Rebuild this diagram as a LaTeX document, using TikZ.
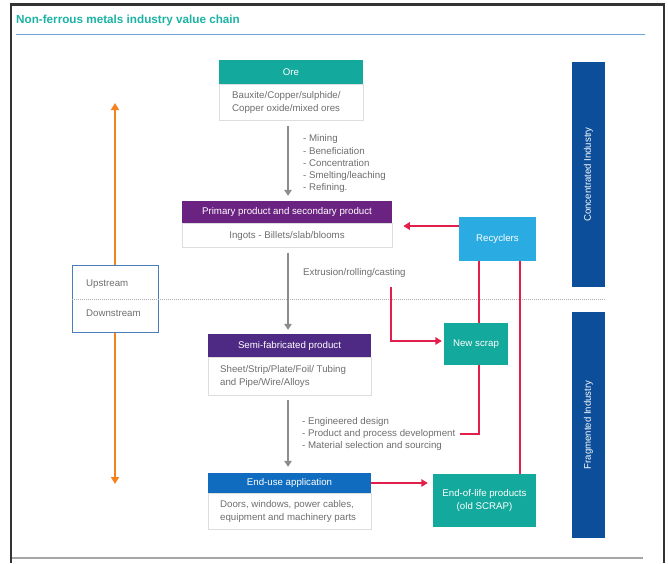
\documentclass[tikz,border=0pt]{standalone}
\usepackage{fontspec}
\setmainfont{Liberation Sans}
\usetikzlibrary{arrows.meta}

\definecolor{tealbox}{HTML}{13A99C}
\definecolor{titleteal}{HTML}{1BB3A5}
\definecolor{purpleA}{HTML}{6B2381}
\definecolor{purpleB}{HTML}{4E2A84}
\definecolor{enduse}{HTML}{0F6CBE}
\definecolor{recycle}{HTML}{2AACE2}
\definecolor{barblue}{HTML}{0C4E9A}
\definecolor{flowred}{HTML}{E21E4B}
\definecolor{flowgray}{HTML}{8C8C8C}
\definecolor{txtgray}{HTML}{6E6E6E}
\definecolor{boxline}{HTML}{DDDDDD}
\definecolor{orangeline}{HTML}{F5821F}
\definecolor{ruleblue}{HTML}{6FA3D8}
\definecolor{udblue}{HTML}{4A7EBB}
\definecolor{framegray}{HTML}{333333}

\newcommand{\txt}{\fontsize{9.7}{12.3}\selectfont}

\tikzset{
  hdr/.style={rectangle, inner sep=0pt, text=white, font=\txt, align=center},
  bodybox/.style={rectangle, draw=boxline, fill=white, line width=0.6pt, inner sep=0pt},
  solidbox/.style={rectangle, inner sep=0pt, text=white, font=\txt, align=center},
  bar/.style={rectangle, fill=barblue, inner sep=0pt, minimum width=33pt},
  grayarrow/.style={draw=flowgray, line width=1.4pt,
    -{Triangle[width=7.5pt,length=6pt]}},
  redline/.style={draw=flowred, line width=1.4pt},
  redarrow/.style={redline, -{Triangle[width=7.5pt,length=6.5pt]}},
  orangearrow/.style={draw=orangeline, line width=2pt,
    -{Triangle[width=8pt,length=7pt]}},
  note/.style={text=txtgray, font=\txt, align=left, inner sep=0pt},
}

\begin{document}
\begin{tikzpicture}[x=1pt,y=-1pt]
\useasboundingbox (0,0) rectangle (668,563);
\fill[white] (0,0) rectangle (668,563);

% frame, title and rules
\draw[framegray, line width=2.6pt] (11,563) -- (11,4.5) -- (664,4.5) -- (664,563);
\node[anchor=west, inner sep=0pt, text=titleteal, font=\fontsize{11.7}{13}\selectfont\bfseries]
  (title) at (16,20) {Non-ferrous metals industry value chain};
\draw[ruleblue, line width=1.5pt] (16,34.5) -- (645,34.5);
\draw[gray!70, line width=2pt] (12,558) -- (643,558);

% upstream / downstream split
\node[rectangle, draw=udblue, fill=white, line width=1pt, minimum width=86pt,
  minimum height=67pt, inner sep=0pt] (ud) at (115,298.5) {};
\draw[gray!65, line width=0.8pt, dash pattern=on 1.2pt off 0.8pt] (72,299) -- (605,299);
\node[note, anchor=west] (up) at (86,284) {Upstream};
\node[note, anchor=west] (down) at (86,313.5) {Downstream};
\coordinate (uptip) at (115,103);
\coordinate (downtip) at (115,484);
\draw[orangearrow] (ud.north) -- (uptip);
\draw[orangearrow] (ud.south) -- (downtip);

% industry bars
\node[bar, minimum height=225pt] (conc) at (588.5,174.5) {};
\node[rotate=90, text=white, font=\fontsize{9.6}{10}\selectfont, inner sep=0pt]
  (conctxt) at (conc.center) {Concentrated Industry};
\node[bar, minimum height=226pt] (frag) at (588.5,425) {};
\node[rotate=90, text=white, font=\fontsize{9.6}{10}\selectfont, inner sep=0pt]
  (fragtxt) at (frag.center) {Fragmented Industry};

% ore
\node[hdr, fill=tealbox, minimum width=144pt, minimum height=24pt] (ore) at (291,72) {Ore};
\node[bodybox, anchor=north, minimum width=144pt, minimum height=36pt] (oreb) at (ore.south) {};
\node[note, anchor=west] (oretxt) at (oreb.center -| 232,0)
  {Bauxite/Copper/sulphide/\\Copper oxide/mixed ores};

% primary product
\node[hdr, fill=purpleA, minimum width=210pt, minimum height=22pt] (prim) at (287,212)
  {Primary product and secondary product};
\node[bodybox, anchor=north, minimum width=210pt, minimum height=24pt] (primb) at (prim.south) {};
\node[note] (primtxt) at (primb.center) {Ingots - Billets/slab/blooms};

% semi-fabricated product
\node[hdr, fill=purpleB, minimum width=163pt, minimum height=23pt] (semi) at (289.5,345.5)
  {Semi-fabricated product};
\node[bodybox, anchor=north, minimum width=163pt, minimum height=38pt] (semib) at (semi.south) {};
\node[note, anchor=west] (semitxt) at (semib.center -| 220,0)
  {Sheet/Strip/Plate/Foil/ Tubing\\and Pipe/Wire/Alloys};

% end-use application
\node[hdr, fill=enduse, minimum width=163pt, minimum height=20pt] (eu) at (289.5,483)
  {End-use application};
\node[bodybox, anchor=north, minimum width=163pt, minimum height=36pt] (eub) at (eu.south) {};
\node[note, anchor=west] (eutxt) at (eub.center -| 220,0)
  {Doors, windows, power cables,\\equipment and machinery parts};

% scrap flows
\node[solidbox, fill=recycle, minimum width=77pt, minimum height=44pt] (rec) at (497.5,239) {Recyclers};
\node[solidbox, fill=tealbox, minimum width=64pt, minimum height=42pt] (ns) at (476,344) {New scrap};
\node[solidbox, fill=tealbox, minimum width=103pt, minimum height=53pt] (eol) at (484.5,500.5)
  {End-of-life products\\(old SCRAP)};

% process notes
\node[note, anchor=north west] (steps1) at (303,134.5)
  {- Mining\\- Beneficiation\\- Concentration\\- Smelting/leaching\\- Refining.};
\node[note, anchor=west] (steps2) at (303,273) {Extrusion/rolling/casting};
\node[note, anchor=north west] (steps3) at (302,417)
  {- Engineered design\\- Product and process development\\- Material selection and sourcing};

% main value-chain arrows
\coordinate (axis) at (288,0);
\draw[grayarrow, shorten <=5pt, shorten >=5pt] (oreb.south -| axis) -- (prim.north -| axis);
\draw[grayarrow, shorten <=5pt, shorten >=4pt] (primb.south -| axis) -- (semi.north -| axis);
\draw[grayarrow, shorten <=4pt, shorten >=6pt] (semib.south -| axis) -- (eu.north -| axis);

% recycling connectors
\coordinate (xa) at (479,0);
\coordinate (xb) at (520,0);
\coordinate (extr) at (391,287);
\coordinate (devend) at (460,434);
\draw[redarrow, shorten >=11pt] ([yshift=13pt]rec.west) -- ([yshift=13pt]rec.west -| primb.east);
\draw[redline] (rec.south -| xa) -- (ns.north -| xa);
\draw[redline] (ns.south -| xa) |- (devend);
\draw[redline] (rec.south -| xb) -- (eol.north -| xb);
\draw[redarrow, shorten >=2pt] (extr) |- ([yshift=3pt]ns.west);
\draw[redarrow, shorten >=5pt] (eu.east) -- (eu.east -| eol.west);
\end{tikzpicture}
\end{document}
